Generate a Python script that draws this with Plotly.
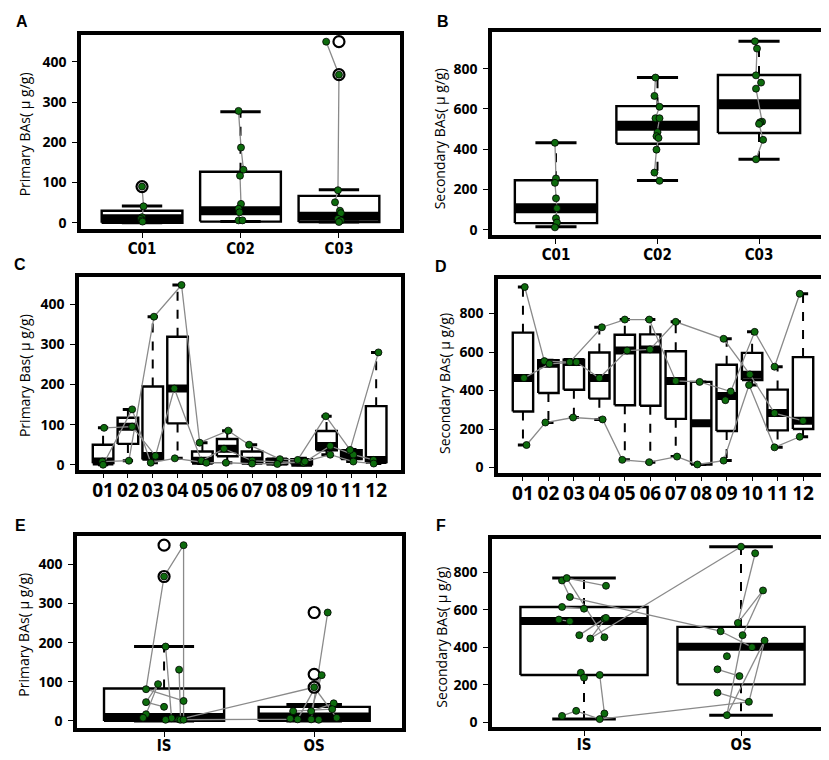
import plotly.graph_objects as go

W, H = 829, 760

# ---------- panel A : primary BAs by site ----------
a_labels = ["C01", "C02", "C03"]
a_lo = [0, 3, 2]
a_q1 = [0, 3, 2]
a_med = [10, 30, 16]
a_q3 = [30, 127, 67]
a_hi = [42, 276, 82]
a_out_cat = [1, 3, 3]
a_out_val = [90, 450, 368]
a_cat = [1] * 6 + [2] * 9 + [3] * 9
a_val = [90, 41, 14, 10, 6, 3,
         278, 187, 132, 117, 47, 35, 26, 6, 6,
         450, 368, 81, 51, 30, 24, 10, 6, 2]
a_jit = [0, 0.015, 0, -0.01, 0, 0.005,
         -0.02, 0.005, 0.03, -0.005, 0.005, -0.02, -0.01, -0.02, 0.02,
         -0.13, 0, -0.01, -0.04, 0.01, 0.02, -0.01, 0.02, 0]

# ---------- panel B : secondary BAs by site ----------
b_labels = ["C01", "C02", "C03"]
b_lo = [15, 245, 350]
b_q1 = [33, 427, 481]
b_med = [107, 517, 624]
b_q3 = [246, 614, 769]
b_hi = [432, 756, 936]
b_cat = [1] * 8 + [2] * 11 + [3] * 10
b_val = [432, 255, 233, 156, 107, 57, 36, 12,
         756, 665, 611, 554, 554, 485, 465, 456, 398, 284, 243,
         936, 900, 767, 731, 701, 537, 534, 526, 447, 350]
b_jit = [-0.01, 0, -0.01, 0, 0.01, 0, 0.01, -0.01,
         -0.02, -0.03, 0.02, -0.02, 0.02, 0, -0.01, 0.01, -0.01, -0.03, 0.02,
         -0.04, -0.02, -0.03, 0.02, -0.03, 0.03, 0.01, 0, 0.04, -0.03]

# ---------- panel C : primary BAs by month ----------
months = ["01", "02", "03", "04", "05", "06", "07", "08", "09", "10", "11", "12"]
c_lo = [0, 10, 5, 16, 3, 5, 3, 2, 0, 25, 8, 3]
c_q1 = [4, 52, 13, 103, 5, 21, 5, 2, 1, 36, 14, 7]
c_med = [8, 95, 22, 190, 10, 40, 10, 8, 5, 47, 25, 12]
c_q3 = [50, 117, 195, 319, 33, 64, 33, 14, 14, 84, 36, 146]
c_hi = [92, 138, 369, 448, 55, 85, 50, 14, 16, 121, 38, 280]
c_s1 = [92, 95, 22, 190, 10, 40, 10, None, 5, 47, 25, 12]
c_s2 = [8, 10, 369, 448, 55, 85, 50, 14, 12, 121, 37, 280]
c_s3 = [0, 138, 5, 16, 5, 5, 3, 2, 8, 25, 8, 3]
c_j1 = [0.04, 0.17, 0.11, -0.13, -0.04, -0.13, 0.01, 0, 0.07, 0.15, 0.08, -0.11]
c_j2 = [-0.03, 0.04, 0.05, 0.16, -0.11, 0.04, -0.12, 0.12, -0.16, -0.03, -0.05, 0.09]
c_j3 = [0, 0.17, -0.08, -0.11, 0.16, -0.05, 0, 0.02, 0.13, 0.15, 0.08, -0.1]

# ---------- panel D : secondary BAs by month ----------
d_lo = [117, 234, 260, 250, 40, 28, 57, 16, 36, 429, 105, 160]
d_q1 = [291, 387, 404, 358, 324, 321, 253, 16, 190, 455, 193, 200]
d_med = [465, 540, 548, 465, 608, 614, 450, 230, 372, 482, 283, 243]
d_q3 = [701, 558, 560, 598, 690, 692, 604, 445, 534, 596, 405, 574]
d_hi = [938, 558, 560, 729, 769, 769, 757, 445, 669, 705, 524, 903]
d_s1 = [938, 553, 548, 729, 769, 769, 450, 445, 395, 705, 524, 903]
d_s2 = [465, 539, 548, 465, 608, 614, 757, None, 669, 484, 283, 243]
d_s3 = [117, 234, 260, 250, 40, 28, 57, 16, 36, 429, 105, 160]
d_j1 = [0.07, -0.16, -0.16, 0.1, 0, -0.04, 0, -0.06, 0.16, 0.1, -0.12, -0.13]
d_j2 = [0.04, 0.04, 0.1, 0, 0.09, -0.01, 0, 0, -0.12, -0.09, -0.12, 0]
d_j3 = [0.14, -0.12, -0.03, 0.13, -0.1, -0.04, 0.05, -0.15, -0.12, -0.12, -0.12, -0.13]
d_extra_month = [9]
d_extra_val = [350]
d_extra_jit = [-0.05]

# ---------- panel E : primary BAs IS / OS ----------
e_labels = ["IS", "OS"]
e_lo = [0, 0]
e_q1 = [0, 0]
e_med = [10, 11]
e_q3 = [83, 36]
e_hi = [190, 42]
e_out_cat = [1, 1, 2, 2, 2]
e_out_val = [449, 369, 277, 119, 86]
e_cat = [1] * 16 + [2] * 12
e_val = [449, 369, 190, 131, 94, 81, 48, 36, 51, 17, 8, 7, 3, 4, 3, 3,
         277, 117, 86, 45, 30, 25, 25, 8, 6, 4, 4, 3]
e_jit = [0.13, 0, 0.01, 0.1, -0.04, -0.12, -0.12, 0, 0.13, -0.12, -0.14, 0.05, 0.01, 0.1, 0.11, 0.13,
         0.09, 0.05, 0, 0.13, 0.12, -0.14, -0.02, 0.15, -0.16, -0.11, -0.02, 0.03]
e_links = [[5, 1, 0, 15], [2, 11], [3, 14], [5, 8], [4, 6, 7], [10, 9, 4],
           [13, 18], [12, 25], [16, 26], [17, 25], [17, 22], [19, 22], [20, 21], [18, 23]]

# ---------- panel F : secondary BAs IS / OS ----------
f_labels = ["IS", "OS"]
f_lo = [18, 39]
f_q1 = [253, 203]
f_med = [541, 403]
f_q3 = [615, 509]
f_hi = [769, 936]
f_cat = [1] * 20 + [2] * 14
f_val = [756, 769, 728, 668, 615, 606, 548, 539, 553, 557, 465, 447, 454, 265, 239, 253, 62, 35, 48, 18,
         936, 901, 703, 530, 486, 465, 401, 436, 353, 283, 247, 159, 110, 39]
f_jit = [-0.14, -0.11, 0.14, -0.09, -0.14, 0, -0.16, -0.09, 0.13, 0.14, -0.03, 0.04, 0.13, -0.02, 0, 0.1,
         -0.05, -0.14, 0.13, 0.1,
         0, 0.09, 0.14, -0.02, -0.13, 0.01, 0.07, 0.15, -0.09, -0.15, -0.01, -0.15, 0.05, -0.09]
f_links = [[3, 24], [11, 20], [19, 32], [0, 3], [1, 2], [1, 12], [4, 5], [6, 7], [10, 8], [11, 9],
           [13, 14], [15, 18], [17, 16, 19],
           [21, 23], [22, 23], [22, 25], [24, 26], [29, 30], [31, 32], [27, 32], [33, 25], [33, 27]]

GREEN = "#0d6b0d"
GREY = "#8a8a8a"

fig = go.Figure()


def axes(n):
    return ("x" if n == 1 else f"x{n}"), ("y" if n == 1 else f"y{n}")


def add_boxes(n, lo, q1, med, q3, hi, half, band=8):
    xa, ya = axes(n)
    if not isinstance(half, list):
        half = [half] * len(lo)
    wx, wy, sx, sy, mx, my = [], [], [], [], [], []
    for i in range(len(lo)):
        c, h = i + 1, half[i]
        fig.add_trace(go.Scatter(
            x=[c - h, c + h, c + h, c - h, c - h],
            y=[q1[i], q1[i], q3[i], q3[i], q1[i]],
            mode="lines", fill="toself", fillcolor="white",
            line=dict(color="black", width=2.4),
            xaxis=xa, yaxis=ya, hoverinfo="skip"))
        for a, b in ((q3[i], hi[i]), (q1[i], lo[i])):
            if a != b:
                wx += [c, c, None]
                wy += [a, b, None]
            sx += [c - h / 2, c + h / 2, None]
            sy += [b, b, None]
        mx += [c - h, c + h, None]
        my += [med[i], med[i], None]
    fig.add_trace(go.Scatter(x=mx, y=my, mode="lines", line=dict(color="black", width=band),
                             xaxis=xa, yaxis=ya, hoverinfo="skip"))
    fig.add_trace(go.Scatter(x=wx, y=wy, mode="lines",
                             line=dict(color="black", width=2, dash="dash"),
                             xaxis=xa, yaxis=ya, hoverinfo="skip"))
    fig.add_trace(go.Scatter(x=sx, y=sy, mode="lines", line=dict(color="black", width=3),
                             xaxis=xa, yaxis=ya, hoverinfo="skip"))


def add_points(n, cat, val, jit, links, out_cat=None, out_val=None):
    xa, ya = axes(n)
    px = [c + j for c, j in zip(cat, jit)]
    lx, ly = [], []
    for chain in links:
        lx += [px[k] for k in chain] + [None]
        ly += [val[k] for k in chain] + [None]
    fig.add_trace(go.Scatter(x=lx, y=ly, mode="lines", line=dict(color=GREY, width=1.3),
                             xaxis=xa, yaxis=ya, hoverinfo="skip"))
    if out_cat:
        fig.add_trace(go.Scatter(x=out_cat, y=out_val, mode="markers",
                                 marker=dict(size=11, color="white",
                                             line=dict(color="black", width=2.2)),
                                 xaxis=xa, yaxis=ya, hoverinfo="skip"))
    fig.add_trace(go.Scatter(x=px, y=val, mode="markers",
                             marker=dict(size=7, color=GREEN, line=dict(color="black", width=0.8)),
                             xaxis=xa, yaxis=ya, hoverinfo="skip"))


def chains_by_cat(cat):
    out, cur = [], []
    for k, c in enumerate(cat):
        if cur and cat[cur[-1]] != c:
            out.append(cur)
            cur = []
        cur.append(k)
    out.append(cur)
    return out


def from_series(series, jits, extra=None):
    cat, val, jit, links = [], [], [], []
    for s, js in zip(series, jits):
        chain = []
        for m, (v, j) in enumerate(zip(s, js)):
            if v is None:
                continue
            chain.append(len(val))
            cat.append(m + 1)
            val.append(v)
            jit.append(j)
        links.append(chain)
    if extra:
        for m, v, j in zip(*extra):
            cat.append(m)
            val.append(v)
            jit.append(j)
    return cat, val, jit, links


# A
add_boxes(1, a_lo, a_q1, a_med, a_q3, a_hi, 0.41, band=9)
add_points(1, a_cat, a_val, a_jit, chains_by_cat(a_cat), a_out_cat, a_out_val)
# B
add_boxes(2, b_lo, b_q1, b_med, b_q3, b_hi, 0.405, band=10)
add_points(2, b_cat, b_val, b_jit, chains_by_cat(b_cat))
# C
add_boxes(3, c_lo, c_q1, c_med, c_q3, c_hi, 0.415, band=8)
add_points(3, *from_series([c_s1, c_s2, c_s3], [c_j1, c_j2, c_j3]))
# D
add_boxes(4, d_lo, d_q1, d_med, d_q3, d_hi, 0.4, band=8)
add_points(4, *from_series([d_s1, d_s2, d_s3], [d_j1, d_j2, d_j3],
                           (d_extra_month, d_extra_val, d_extra_jit)))
# E
add_boxes(5, e_lo, e_q1, e_med, e_q3, e_hi, [0.4, 0.37], band=8)
add_points(5, e_cat, e_val, e_jit, e_links, e_out_cat, e_out_val)
# F
add_boxes(6, f_lo, f_q1, f_med, f_q3, f_hi, 0.405, band=8)
add_points(6, f_cat, f_val, f_jit, f_links)

# ---------- layout ----------
site_font = dict(family="DejaVu Sans Condensed, Liberation Sans Narrow, Arial", size=15,
                 color="black", weight="bold")
month_font = dict(family="Open Sans", size=19, color="black", weight="bold")
ytick_font = dict(family="Open Sans", size=14, color="black", weight="bold")

panels = [
    # frame px (x0, x1, y0, y1), x range, y range, y ticks, x labels, x font, label standoff
    ((73, 392, 27, 222), [0.38, 3.62], [-15, 467], [0, 100, 200, 300, 400], a_labels, site_font, -2),
    ((484, 815, 24, 228), [0.37, 3.63], [-25, 983], [0, 200, 400, 600, 800], b_labels, site_font, -2),
    ((71, 393, 270, 464), [0.03, 13.0], [-12, 469], [0, 100, 200, 300, 400], months, month_font, -4),
    ((490, 820, 272, 467), [0.02, 12.98], [-26, 982], [0, 200, 400, 600, 800], months, month_font, -4),
    ((69, 394, 531, 724), [0.42, 2.585], [-18.6, 472], [0, 100, 200, 300, 400], e_labels, site_font, -4),
    ((484, 823, 534, 723), [0.414, 2.573], [-25, 976], [0, 200, 400, 600, 800], f_labels, site_font, -4),
]

lay = {}
for n, (fr, xr, yr, yt, xl, xf, so) in enumerate(panels, start=1):
    x0, x1, y0, y1 = fr
    sfx = "" if n == 1 else str(n)
    lay["xaxis" + sfx] = dict(
        domain=[x0 / W, x1 / W], range=xr, anchor="y" + sfx,
        tickvals=list(range(1, len(xl) + 1)), ticktext=xl, tickfont=xf, tickangle=0,
        ticks="outside", ticklen=5, tickwidth=1, tickcolor="black", ticklabelstandoff=so,
        showline=True, mirror=True, linewidth=3.5, linecolor="black",
        showgrid=False, zeroline=False, fixedrange=True)
    lay["yaxis" + sfx] = dict(
        domain=[1 - y1 / H, 1 - y0 / H], range=yr, anchor="x" + sfx,
        tickvals=yt, tickfont=ytick_font,
        ticks="outside", ticklen=5, tickwidth=1, tickcolor="black", ticklabelstandoff=3,
        showline=True, mirror=True, linewidth=3.5, linecolor="black",
        showgrid=False, zeroline=False, fixedrange=True)

letters = [("A", 14, 14), ("B", 435, 14), ("C", 12, 258), ("D", 433, 260), ("E", 12, 520), ("F", 433, 520)]
ytitles = [("Primary BAs( μ g/g)", 16, 127), ("Secondary BAs( μ g/g)", 431, 132),
           ("Primary Bas( μ g/g)", 16, 370), ("Secondary BAs( μ g/g)", 436, 378),
           ("Primary BAs( μ g/g)", 16, 630), ("Secondary BAs( μ g/g)", 434, 633)]

ann = []
for t, x, y in letters:
    ann.append(dict(text=t, x=x / W, y=1 - y / H, xref="paper", yref="paper",
                    xanchor="center", yanchor="middle", showarrow=False,
                    font=dict(family="Liberation Sans, Arial", size=16, color="black", weight="bold")))
for t, x, y in ytitles:
    ann.append(dict(text=t, x=x / W, y=1 - y / H, xref="paper", yref="paper",
                    xanchor="center", yanchor="middle", showarrow=False, textangle=-90,
                    font=dict(family="Open Sans", size=14, color="black")))

fig.update_layout(
    width=W, height=H, margin=dict(l=0, r=0, t=0, b=0),
    paper_bgcolor="white", plot_bgcolor="white",
    showlegend=False, annotations=ann, **lay)

fig.write_html("out.html")
